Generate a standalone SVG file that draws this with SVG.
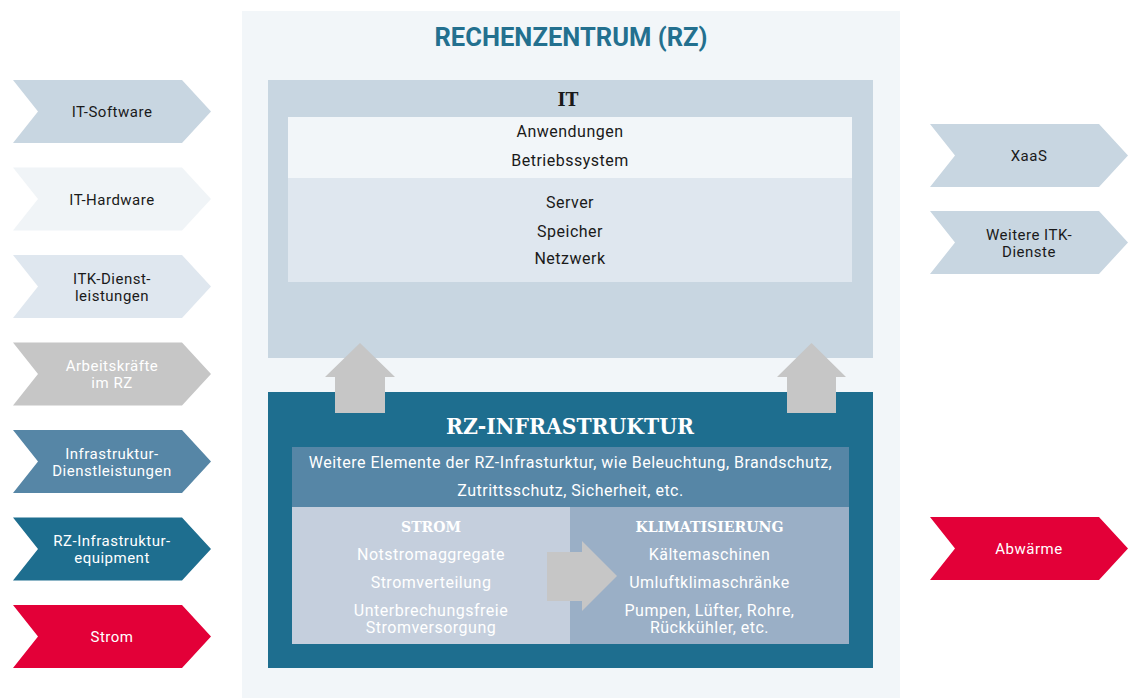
<svg xmlns="http://www.w3.org/2000/svg" width="1135" height="698" viewBox="0 0 1135 698">
<style>
.t{font-family:Roboto,"Liberation Sans",sans-serif;font-size:15px;letter-spacing:0.5px;text-anchor:middle}
.b{font-family:Roboto,"Liberation Sans",sans-serif;font-size:16px;letter-spacing:0.5px;text-anchor:middle}
.s{font-family:"DejaVu Serif Condensed","DejaVu Serif",serif;font-weight:bold;text-anchor:middle}
.dk{fill:#1a1a1a}
.wh{fill:#ffffff}
.gr{fill:#c6c6c6}
</style>
<defs>
<path id="chev" d="M0,0 H169 L198,31.5 L169,63 H0 L25,31.5 Z"/>
</defs>
<rect x="0" y="0" width="1135" height="698" fill="#ffffff"/>

<!-- Main RZ panel -->
<g id="rz">
<rect x="242" y="11" width="658" height="687" fill="#f2f6f9"/>
<text x="571" y="46" font-family="Roboto,'Liberation Sans',sans-serif" font-weight="bold" font-size="26" fill="#23708f" text-anchor="middle" textLength="273" lengthAdjust="spacingAndGlyphs">RECHENZENTRUM (RZ)</text>
</g>

<!-- IT box -->
<g id="it">
<rect x="268" y="80" width="605" height="278" fill="#c8d6e1"/>
<text class="s dk" x="568" y="106" font-size="18" textLength="21" lengthAdjust="spacingAndGlyphs">IT</text>
<rect x="288" y="117" width="564" height="61" fill="#f2f6f9"/>
<rect x="288" y="178" width="564" height="104" fill="#dfe7ef"/>
<text class="b dk" x="570" y="137">Anwendungen</text>
<text class="b dk" x="570" y="166">Betriebssystem</text>
<text class="b dk" x="570" y="208">Server</text>
<text class="b dk" x="570" y="237">Speicher</text>
<text class="b dk" x="570" y="264">Netzwerk</text>
</g>

<!-- RZ Infrastruktur box -->
<g id="infra">
<rect x="268" y="392" width="605" height="276" fill="#1e6e8f"/>
<text class="s wh" x="570" y="434" font-size="23" textLength="248" lengthAdjust="spacingAndGlyphs">RZ-INFRASTRUKTUR</text>
<rect x="292" y="447" width="557" height="60" fill="#5686a6"/>
<text class="b wh" x="570.5" y="468">Weitere Elemente der RZ-Infrasturktur, wie Beleuchtung, Brandschutz,</text>
<text class="b wh" x="570.5" y="496">Zutrittsschutz, Sicherheit, etc.</text>
</g>

<g id="strom-box">
<rect x="292" y="507" width="278" height="137" fill="#c5cfdd"/>
<text class="s wh" x="431" y="532" font-size="15" textLength="60" lengthAdjust="spacingAndGlyphs">STROM</text>
<text class="b wh" x="431" y="560">Notstromaggregate</text>
<text class="b wh" x="431" y="588">Stromverteilung</text>
<text class="b wh" x="431" y="615.5">Unterbrechungsfreie</text>
<text class="b wh" x="431" y="632.5">Stromversorgung</text>
</g>

<g id="klima-box">
<rect x="570" y="507" width="279" height="137" fill="#9aafc6"/>
<text class="s wh" x="709.5" y="532" font-size="15" textLength="148" lengthAdjust="spacingAndGlyphs">KLIMATISIERUNG</text>
<text class="b wh" x="709.5" y="560">Kältemaschinen</text>
<text class="b wh" x="709.5" y="588">Umluftklimaschränke</text>
<text class="b wh" x="709.5" y="615.5">Pumpen, Lüfter, Rohre,</text>
<text class="b wh" x="709.5" y="632.5">Rückkühler, etc.</text>
</g>

<!-- Connectors / arrows -->
<g id="connectors">
<path class="gr" d="M335,413 V377 H325 L360,343 L395,377 H385 V413 Z"/>
<path class="gr" d="M787,413 V377 H777 L811.5,343 L846,377 H836 V413 Z"/>
<path class="gr" d="M547,552 H582 V541 L617,576 L582,611 V601 H547 Z"/>
</g>

<!-- Left inputs -->
<g id="in-software"><use href="#chev" x="13" y="80" fill="#c8d6e1"/><text class="t dk" x="112" y="117">IT-Software</text></g>
<g id="in-hardware"><use href="#chev" x="13" y="167.5" fill="#f0f4f7"/><text class="t dk" x="112" y="204.5">IT-Hardware</text></g>
<g id="in-itk"><use href="#chev" x="13" y="255" fill="#dfe7ef"/><text class="t dk" x="112" y="283.5">ITK-Dienst-</text><text class="t dk" x="112" y="300.5">leistungen</text></g>
<g id="in-arbeit"><use href="#chev" x="13" y="342.5" fill="#c6c6c6"/><text class="t wh" x="112" y="371">Arbeitskräfte</text><text class="t wh" x="112" y="388">im RZ</text></g>
<g id="in-infradl"><use href="#chev" x="13" y="430" fill="#5686a6"/><text class="t wh" x="112" y="458.5">Infrastruktur-</text><text class="t wh" x="112" y="475.5">Dienstleistungen</text></g>
<g id="in-equip"><use href="#chev" x="13" y="517.5" fill="#1e6e8f"/><text class="t wh" x="112" y="546">RZ-Infrastruktur-</text><text class="t wh" x="112" y="563">equipment</text></g>
<g id="in-strom"><use href="#chev" x="13" y="605" fill="#e30038"/><text class="t wh" x="112" y="642">Strom</text></g>

<!-- Right outputs -->
<g id="out-xaas"><use href="#chev" x="930" y="124" fill="#c8d6e1"/><text class="t dk" x="1029" y="161">XaaS</text></g>
<g id="out-itk"><use href="#chev" x="930" y="211" fill="#c8d6e1"/><text class="t dk" x="1029" y="239.5">Weitere ITK-</text><text class="t dk" x="1029" y="256.5">Dienste</text></g>
<g id="out-abw"><use href="#chev" x="930" y="517" fill="#e30038"/><text class="t wh" x="1029" y="554">Abwärme</text></g>
</svg>
